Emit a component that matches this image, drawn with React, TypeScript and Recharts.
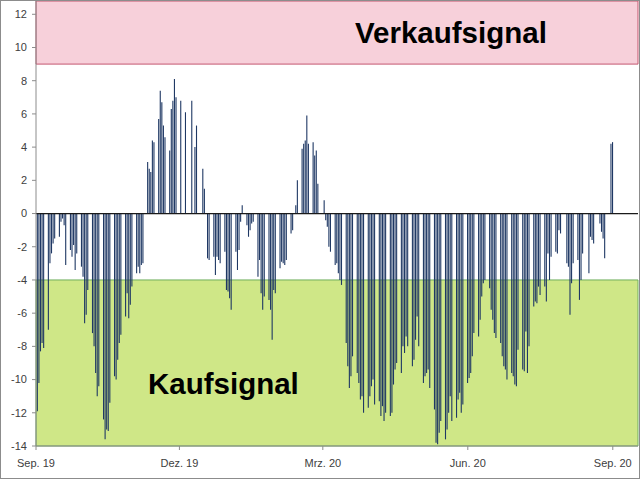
import { BarChart, Bar, XAxis, YAxis, ReferenceArea, ReferenceLine } from "recharts";

// weekly readings, Mon..Fri, days counted from 1 Sep 2019
const autumn19 = [
  -11.9, -10.2, -8.3, -7.8, -8.1,
  -7.0, -3.0, -2.4, -1.8, -1.5,
  -1.4, -0.5, -0.3, -0.7, -3.1,
  -2.2, -2.6, -1.9, -3.4, -2.4,
  -3.2, -3.8, -6.6, -6.1, -4.6,
  -7.2, -8.0, -9.6, -11.0, -10.4,
  -12.4, -13.6, -13.0, -13.1, -11.4,
  -9.8, -10.0, -8.8, -7.8, -7.3,
  -6.2, -4.8, -6.3, -5.5, -4.4,
  -3.6, -3.2, -3.6, -3.1, -3.0,
  3.1, 2.7, 2.5, 4.4, 4.3,
  5.7, 7.4, 6.7, 5.3, 4.6,
  3.8, 6.3, 6.8, 8.1, 7.0,
];
const winter19 = [
  6.8, null, null, 6.1, null,
  6.8, null, 4.0, 5.3, null,
  2.7, 1.5, null, -2.7, -2.8,
  -2.6, -3.7, -2.6, -2.8, -3.0,
  -2.3, -4.6, -4.7, -5.1, -5.8,
  -2.3, -3.4, -2.2, -0.5, 0.5,
  -0.7, -1.4, -1.0, -0.6, -0.5,
  -3.8, -2.8, -4.8, -5.8, -5.0,
  -5.2, -5.8, -7.6, -4.6, -4.8,
  -3.3, -2.9, -3.0, -3.1, -2.8,
  -1.2, -1.0, null, 0.5, 2.0,
  3.9, 4.2, 4.4, 5.9, 4.2,
  4.3, 3.5, 3.8, 1.8, null,
];
const spring20 = [
  0.8, -0.4, -0.8, -2.0, -2.3,
  -3.1, -3.0, -3.6, -4.0, -4.3,
  -7.8, -9.2, -10.5, -9.8, -8.6,
  -9.6, -10.2, -11.2, -11.0, -12.0,
  -11.7, -11.0, -10.4, -10.0, -11.5,
  -11.3, -12.2, -11.6, -12.5, -12.0,
  -12.2, -12.0, -10.3, -9.4, -9.0,
  -9.6, -8.0, -8.4, -7.4, -8.0,
  -9.2, -8.8, -7.6, -6.2, -8.0,
  -10.2, -9.8, -9.6, -9.4, -10.5,
  -11.8, -13.8, -13.9, -13.2, -12.5,
  -13.6, -13.0, -12.0, -11.0, -12.5,
  -12.3, -11.2, -10.8, -12.0, -11.5,
];
const summer20 = [
  -10.2, -9.9, -9.6, -8.6, -7.2,
  -7.4, -6.4, -5.0, -4.2, -4.0,
  -4.5, -5.8, -6.4, -7.2, -7.5,
  -7.8, -8.6, -9.2, -9.4, -10.0,
  -9.6, -9.8, -10.3, -10.4, -8.2,
  -9.4, -9.5, -7.1, -9.6, -8.0,
  -5.6, -5.3, -5.4, -4.4, -4.9,
  -4.4, -5.3, -2.4, -4.0, -2.6,
  -2.3, -2.4, -1.0, -1.2, null,
  -3.0, -3.2, -6.1, -4.2, -3.0,
  -2.8, -5.2, -4.0, -2.4, null,
  -3.6, -1.4, -1.6, -1.8, null,
  -0.6, -1.1, -1.5, -2.7, null,
  4.2, 4.3,
];

const yTicks = [-14, -12, -10, -8, -6, -4, -2, 0, 2, 4, 6, 8, 10, 12];
const xTicks = [0, 91, 182, 274, 366];
const xLabels = ["Sep. 19", "Dez. 19", "Mrz. 20", "Jun. 20", "Sep. 20"];

const values = [...autumn19, ...winter19, ...spring20, ...summer20];
const data = values.map((v, i) => ({
  day: 1 + Math.floor(i / 5) * 7 + (i % 5),
  value: v,
}));

const font = "'Liberation Sans', Arial, sans-serif";

const bandText = (text: string, dx: number, dy: number) => (props: any) => {
  const vb = props.viewBox || {};
  return (
    <text x={vb.x + dx} y={vb.y + dy} fontFamily={font} fontWeight="bold" fontSize={29.5} fill="#000">
      {text}
    </text>
  );
};

export default function App() {
  return (
    <div
      style={{
        position: "fixed",
        left: 0,
        top: 0,
        width: 640,
        height: 479,
        boxSizing: "border-box",
        border: "1px solid #8c8c8c",
        background: "#fff",
      }}
    >
      <BarChart
        width={638}
        height={477}
        data={data}
        margin={{ top: 0, right: 1, bottom: 0, left: 0 }}
        barGap={0}
      >
        <ReferenceArea
          y1={9}
          y2={12.8}
          x1={0}
          x2={382}
          fill="#f7d0da"
          fillOpacity={1}
          stroke="#c4566f"
          strokeWidth={1}
          label={bandText("Verkaufsignal", 319, 42)}
        />
        <ReferenceArea
          y1={-14}
          y2={-4}
          x1={0}
          x2={382}
          fill="#cfe787"
          fillOpacity={1}
          stroke="#6fae5c"
          strokeWidth={1}
          label={bandText("Kaufsignal", 112, 114)}
        />
        <XAxis
          dataKey="day"
          type="number"
          domain={[0, 382]}
          ticks={xTicks}
          tickFormatter={(t: number) => xLabels[xTicks.indexOf(t)] ?? ""}
          height={32}
          tickSize={4}
          tickMargin={9}
          stroke="#8c8c8c"
          tick={{ fontSize: 11, fill: "#404040", fontFamily: font }}
          interval={0}
        />
        <YAxis
          type="number"
          domain={[-14, 12.8]}
          ticks={yTicks}
          width={35}
          tickSize={4}
          tickMargin={5}
          stroke="#8c8c8c"
          tick={{ fontSize: 11, fill: "#404040", fontFamily: font }}
          allowDataOverflow
          interval={0}
        />
        <ReferenceLine y={0} stroke="#1a1a1a" strokeWidth={1.2} />
        <Bar
          dataKey="value"
          barSize={1.1}
          fill="#1f3864"
          isAnimationActive={false}
        />
      </BarChart>
    </div>
  );
}
